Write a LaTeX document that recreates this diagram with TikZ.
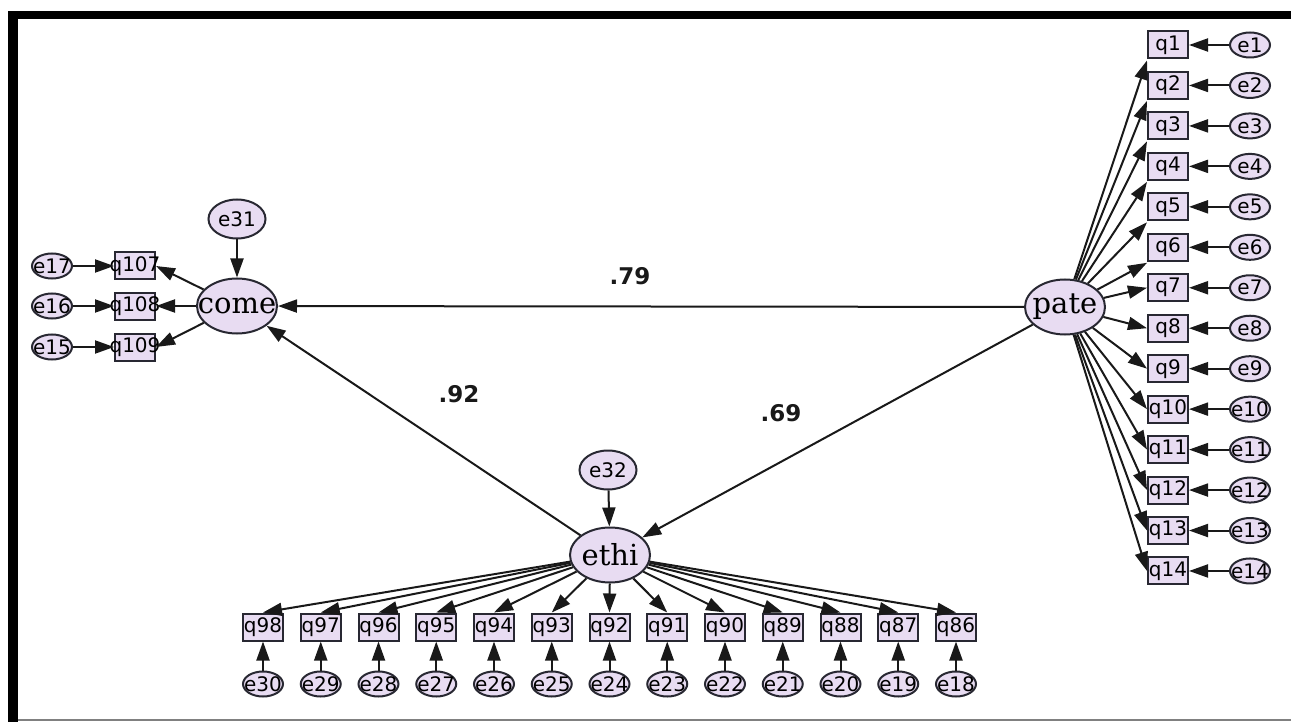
\documentclass[tikz,border=0pt]{standalone}
\usepackage{fontspec}
\setmainfont{DejaVu Sans}
\newfontfamily\latfont{DejaVu Serif}
\usetikzlibrary{shapes.geometric,arrows.meta}
\definecolor{lav}{RGB}{232,220,242}
\definecolor{bord}{RGB}{40,40,50}
\begin{document}
\begin{tikzpicture}[x=1pt,y=-1pt,
  lat/.style={ellipse, draw=bord, fill=lav, line width=2pt, minimum width=80pt, minimum height=55pt, inner sep=0pt, font=\latfont\fontsize{29}{29}\selectfont},
  errsm/.style={ellipse, draw=bord, fill=lav, line width=2pt, minimum width=40pt, minimum height=25pt, inner sep=0pt, font=\fontsize{20}{20}\selectfont},
  errbig/.style={ellipse, draw=bord, fill=lav, line width=2pt, minimum width=57pt, minimum height=39pt, inner sep=0pt, font=\fontsize{20}{20}\selectfont},
  obs/.style={rectangle, draw=bord, fill=lav, line width=2pt, minimum width=40pt, minimum height=27pt, inner sep=0pt, font=\fontsize{20}{20}\selectfont},
  arr/.style={-{Triangle[length=19pt,width=13pt]}, line width=2pt, draw=black!90},
  coef/.style={font=\fontsize{23}{23}\selectfont\bfseries, text=black!90}
]
\useasboundingbox (0,0) rectangle (1291,722);
\fill[white] (0,0) rectangle (1291,722);
\fill[black] (8,11) rectangle (1291,19);
\fill[black] (8,11) rectangle (18,722);
\draw[gray, line width=2pt] (18,720) -- (1291,720);

% latent variables
\node[lat] (come) at (237,306) {\makebox[0pt]{come}};
\node[lat] (pate) at (1065,307) {\makebox[0pt]{pate}};
\node[lat] (ethi) at (610,555) {\makebox[0pt]{ethi}};
\node[errbig] (e31) at (237,219) {\makebox[0pt]{e31}};
\node[errbig] (e32) at (608,470) {\makebox[0pt]{e32}};

% come indicators
\node[obs] (q107) at (135,266) {\makebox[0pt]{q107}};
\node[obs] (q108) at (135,306) {\makebox[0pt]{q108}};
\node[obs] (q109) at (135,347) {\makebox[0pt]{q109}};
\node[errsm] (e17) at (52,266) {\makebox[0pt]{e17}};
\node[errsm] (e16) at (52,306) {\makebox[0pt]{e16}};
\node[errsm] (e15) at (52,347) {\makebox[0pt]{e15}};
\draw[arr] (e17) -- (q107);
\draw[arr] (e16) -- (q108);
\draw[arr] (e15) -- (q109);
\draw[arr] (come) -- (q107.east);
\draw[arr] (come) -- (q108.east);
\draw[arr] (come) -- (q109.east);
\draw[arr] (e31) -- (come);
\draw[arr] (e32) -- (ethi);

% pate indicators
\foreach \i in {1,...,14} {
  \pgfmathsetmacro\yy{45+40.46*(\i-1)}
  \node[obs] (q\i) at (1168,\yy) {\makebox[0pt]{q\i}};
  \node[errsm] (e\i) at (1250,\yy) {\makebox[0pt]{e\i}};
  \draw[arr] (e\i) -- (q\i);
}
\foreach \i in {1,...,6} {
  \draw[arr] (pate) -- ([yshift=-1pt]q\i.south west);
}
\foreach \i in {7,...,14} {
  \draw[arr] (pate) -- (q\i.west);
}

% ethi indicators
\foreach \k in {0,...,12} {
  \pgfmathtruncatemacro\qn{98-\k}
  \pgfmathtruncatemacro\en{30-\k}
  \pgfmathsetmacro\xx{263+57.75*\k}
  \node[obs] (q\qn) at (\xx,627) {\makebox[0pt]{q\qn}};
  \node[errsm] (e\en) at (\xx,684) {\makebox[0pt]{e\en}};
  \draw[arr] (e\en) -- (q\qn);
  \draw[arr] (ethi) -- (q\qn.north);
}

% structural paths
\draw[arr] (pate) -- (come);
\draw[arr] (ethi) -- (come);
\draw[arr] (pate) -- (ethi);

\node[coef] (c79) at (630,276) {.79};
\node[coef] (c92) at (459,394) {.92};
\node[coef] (c69) at (781,413) {.69};
\end{tikzpicture}
\end{document}
